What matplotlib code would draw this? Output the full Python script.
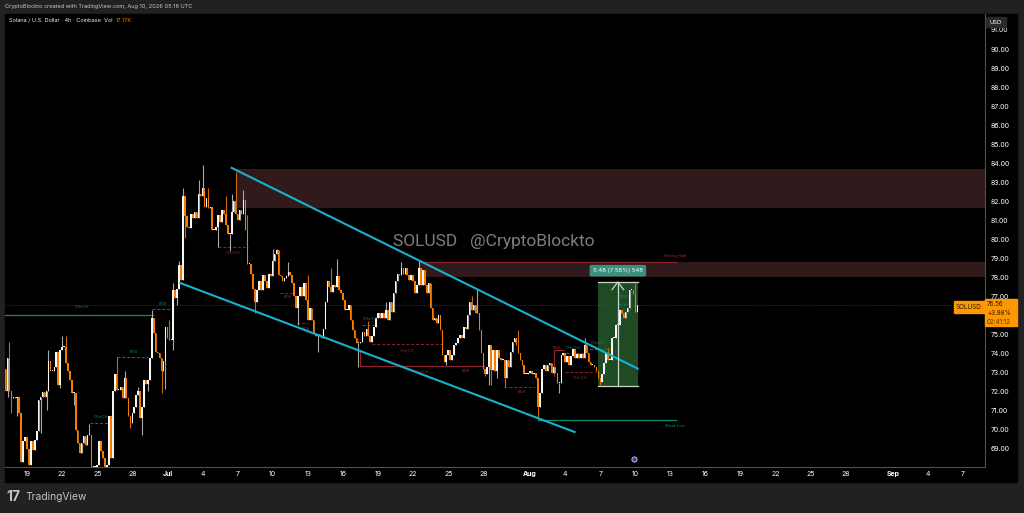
import matplotlib
matplotlib.use('Agg')
import matplotlib.pyplot as plt
from matplotlib.patches import Rectangle
import pandas as pd

plt.rcParams['font.family'] = ['Inter', 'DejaVu Sans']

# 4h closes, one per candle
closes = [
    73.2, 72.0, 73.75, 72.0, 71.65, 71.7, 71.65, 71.7, 70.85, 68.3,
    69.4, 69.6, 69.0, 68.15, 69.4, 68.9, 69.45, 69.9, 71.55, 71.7,
    71.95, 71.7, 72.0, 73.6, 73.1, 73.1, 73.3, 74.1, 72.35, 74.2,
    74.35, 74.35, 73.5, 73.05, 72.6, 71.9, 71.9, 70.0, 69.3, 68.75,
    69.3, 69.65, 69.2, 69.7, 69.7, 68.05, 68.05, 68.05, 68.15, 69.4,
    68.85, 68.5, 68.05, 68.15, 70.7, 68.5, 72.0, 72.9, 72.1, 72.1,
    72.25, 71.65, 72.7, 71.65, 70.7, 70.35, 70.85, 71.2, 71.8, 72.0,
    70.6, 71.2, 72.6, 72.4, 72.6, 73.75, 75.85, 75.05, 74.1, 74.0,
    73.75, 73.05, 73.6, 75.4, 74.8, 74.7, 74.7, 77.35, 76.9, 77.4,
    78.65, 77.85, 82.3, 81.2, 80.65, 80.6, 81.35, 81.1, 81.45, 81.1,
    82.4, 82.3, 82.7, 81.7, 82.15, 81.65, 81.7, 80.5, 80.5, 80.65,
    81.3, 80.9, 81.55, 81.35, 80.75, 80.3, 80.3, 81.45, 82.0, 81.35,
    81.0, 81.55, 81.35, 82.05, 80.5, 78.7, 78.7, 78.2, 77.4, 76.7,
    77.35, 77.8, 77.35, 78.1, 77.8, 77.45, 78.2, 78.05, 78.85, 79.2,
    79.45, 78.1, 78.05, 77.8, 77.95, 78.05, 78.3, 78.1, 77.7, 77.0,
    76.4, 77.0, 77.5, 77.0, 77.7, 76.8, 75.75, 76.4, 75.75, 75.05,
    74.9, 75.0, 74.9, 74.8, 75.3, 76.7, 77.8, 77.5, 77.25, 77.6,
    77.5, 78.05, 77.35, 77.15, 76.8, 76.3, 76.3, 76.55, 75.75, 75.25,
    74.8, 74.55, 74.55, 74.6, 75.15, 74.9, 75.3, 74.9, 74.6, 74.9,
    75.4, 75.85, 76.1, 75.85, 76.1, 75.85, 76.3, 75.75, 76.7, 76.2,
    77.15, 77.8, 78.2, 78.1, 78.5, 78.2, 78.5, 78.1, 77.85, 78.1,
    77.8, 77.15, 77.6, 78.5, 77.6, 78.4, 77.6, 77.15, 77.7, 76.4,
    75.75, 75.85, 75.6, 76.0, 75.25, 73.9, 73.55, 73.9, 74.2, 73.65,
    73.9, 74.45, 74.55, 74.8, 74.95, 74.8, 75.4, 75.3, 76.0, 76.7,
    76.3, 76.55, 76.1, 76.1, 75.25, 74.0, 73.2, 72.9, 73.3, 74.45,
    73.15, 74.2, 73.05, 74.2, 73.75, 73.65, 73.65, 72.7, 73.65, 73.3,
    74.1, 74.6, 74.8, 74.45, 74.0, 73.65, 73.4, 72.9, 72.9, 72.95,
    73.05, 72.9, 72.95, 72.7, 71.2, 71.9, 73.2, 73.4, 73.05, 73.4,
    73.5, 72.95, 73.3, 72.95, 72.45, 72.45, 73.9, 74.0, 73.55, 73.85,
    73.4, 73.85, 74.25, 73.75, 73.95, 73.75, 73.95, 73.75, 74.45, 74.0,
    73.55, 73.4, 73.4, 73.3, 73.05, 72.7, 72.5, 72.9, 73.5, 74.0,
    73.65, 73.65, 74.8, 74.8, 75.5, 75.5, 76.3, 76.1, 75.85, 76.2,
    76.4, 77.35, 77.35, 77.1, 76.2, 76.56,
]

# wicks that stand clear of the bodies
high_idx = [3, 23, 30, 32, 44, 58, 62, 69, 76, 85, 87, 90, 92, 100, 102, 105, 114, 117, 119, 123,
            125, 138, 140, 146, 156, 168, 171, 187, 196, 204, 213, 240, 243, 264, 298, 310, 324]
high_val = [74.6, 74.2, 74.9, 74.9, 70.3, 73.8, 73.05, 72.25, 76.3, 75.75, 77.7, 78.85, 82.7, 83.1, 83.9, 82.7, 82.25, 82.4, 83.55, 82.6,
            81.3, 79.5, 79.5, 78.8, 78.1, 78.5, 78.95, 75.7, 76.7, 78.8, 78.9, 77.0, 77.35, 75.25, 74.8, 74.3, 77.7]
low_idx = [2, 4, 7, 19, 22, 29, 36, 65, 71, 74, 81, 83, 87, 89, 93, 110, 116, 129, 151, 161,
           182, 227, 247, 249, 253, 250, 257, 274, 285, 306]
low_val = [71.7, 70.85, 70.7, 69.8, 71.0, 72.2, 71.3, 70.1, 69.7, 72.05, 71.9, 72.15, 74.2, 76.55, 80.05, 79.6, 79.4, 76.1, 75.5, 74.05,
           73.3, 73.4, 72.8, 72.35, 72.7, 72.35, 72.25, 70.6, 71.9, 72.35]

# 76.00 sits behind the last price tag on the axis
price_ticks = [p for p in range(69, 92) if p != 76]
date_ticks = ['06-19', '06-22', '06-25', '06-28', '07-01', '07-04', '07-07', '07-10', '07-13', '07-16', '07-19', '07-22', '07-25', '07-28',
              '08-01', '08-04', '08-07', '08-10', '08-13', '08-16', '08-19', '08-22', '08-25', '08-28', '09-01', '09-04', '09-07']
date_labels = ['19', '22', '25', '28', 'Jul', '4', '7', '10', '13', '16', '19', '22', '25', '28',
               'Aug', '4', '7', '10', '13', '16', '19', '22', '25', '28', 'Sep', '4', '7']

# drawings, x in days from Jun 19
channel_upper = ([17.5, 52.2], [83.75, 73.2])
channel_lower = ([13.1, 46.8], [77.7, 69.87])
zones = [(17.9, 81.65, 83.7), (33.6, 78.0, 78.8)]
solid_lines = [(-2, 10.8, 76.02, '#108a76'), (33.6, 55.5, 78.8, '#8c2430'), (43.7, 55.5, 70.5, '#108a76'), (28.5, 39.1, 73.34, '#8c2430')]
green_dashes = [(10.7, 12.4, 76.34), (7.7, 10.3, 73.8), (5.4, 7.1, 70.35), (28.6, 29.9, 75.5), (46.1, 47.5, 74.0), (47.7, 50.0, 74.25), (50.5, 51.4, 76.6)]
red_dashes = [(16.3, 18.9, 79.6), (21.6, 22.7, 77.2), (23.1, 24.0, 75.6), (29.5, 35.5, 74.5), (40.8, 43.4, 72.24), (46.0, 48.6, 73.0), (39.1, 39.1, 73.4)]
labels_green = [('CHoCH', 4.7, 76.45), ('BOS', 11.6, 76.6), ('BOS', 9.1, 74.1), ('CHoCH', 6.3, 70.65), ('CHoCH', 29.3, 75.8), ('CHoCH', 46.7, 74.3), ('CHoCH', 48.8, 74.55), ('BOS', 51.0, 76.95), ('Weak Low', 55.4, 70.2)]
labels_red = [('CHoCH', 17.6, 79.3), ('BOS', 22.3, 76.95), ('BOS', 23.8, 75.3), ('CHoCH', 32.5, 74.15), ('CHoCH', 33.8, 73.0), ('BOS', 37.5, 73.1), ('BOS', 42.3, 71.95), ('EQH', 45.3, 74.3), ('CHoCH', 47.3, 72.7), ('Strong High', 55.4, 79.1)]
measure_box = (48.8, 52.2, 72.3, 77.75)

dates = pd.date_range('2026-06-17 00:00', periods=len(closes), freq='4h')
ref = pd.Timestamp('2026-06-19')
x = [(d - ref) / pd.Timedelta(days=1) for d in dates]
opens = [closes[0] + 0.3] + closes[:-1]

W, H = 1024, 513
fig = plt.figure(figsize=(W / 100, H / 100), dpi=100, facecolor='#212121')
fig.add_artist(Rectangle((5 / W, 1 - 482 / H), 1012 / W, 468 / H, transform=fig.transFigure, color='black', zorder=0))

ax = fig.add_axes([5 / W, 1 - 467 / H, 980 / W, 453 / H], facecolor='black', zorder=1)
ax.set_xlim((5 - 27) / 11.7, (985 - 27) / 11.7)
ax.set_ylim(68.03, 91.84)

for x0, y0, y1 in zones:
    ax.add_patch(Rectangle((x0, y0), 90, y1 - y0, color='#301a1c', lw=0, zorder=1))
b0, b1, b2, b3 = measure_box
ax.add_patch(Rectangle((b0, b2), b1 - b0, b3 - b2, color='#1e4a24', lw=0, zorder=1))

ax.axhline(closes[-1], color='#555555', lw=0.5, ls=(0, (1, 2)), zorder=1)

for x0, x1, y, c in solid_lines:
    ax.plot([x0, x1], [y, y], color=c, lw=0.9, zorder=2)
ax.plot([28.5, 28.5], [73.34, 74.2], color='#8c2430', lw=0.8, zorder=2)
ax.plot([45.0, 45.9], [74.2, 74.2], color='#8c2430', lw=0.8, zorder=2)
ax.plot([45.0, 45.0], [72.8, 74.2], color='#8c2430', lw=0.8, zorder=2)
for x0, x1, y in green_dashes:
    ax.plot([x0, x1], [y, y], color='#0e7a68', lw=0.7, ls=(0, (3, 2)), zorder=2)
for x0, x1, y in red_dashes:
    ax.plot([x0, x1], [y, y], color='#8c2430', lw=0.7, ls=(0, (3, 2)), zorder=2)
for s, tx, ty in labels_green:
    ax.text(tx, ty, s, color='#0e8a74', fontsize=2.9, ha='center', va='center', zorder=4)
for s, tx, ty in labels_red:
    ax.text(tx, ty, s, color='#a32c38', fontsize=2.9, ha='center', va='center', zorder=4)

# candles
highs = {i: v for i, v in zip(high_idx, high_val)}
lows = {i: v for i, v in zip(low_idx, low_val)}
for i, (xi, o, c) in enumerate(zip(x, opens, closes)):
    up = c >= o
    col = '#f7f7f7' if up else '#f57c00'
    wick = '#a8a8a8' if up else '#c86c08'
    hi = max(o, c, highs.get(i, max(o, c)))
    lo = min(o, c, lows.get(i, min(o, c)))
    ax.plot([xi, xi], [lo, hi], color=wick, lw=0.8, zorder=3, solid_capstyle='butt')
    ax.bar(xi, max(abs(c - o), 0.05), bottom=min(o, c), width=0.135, color=col, lw=0, zorder=3)

# trend channel
ax.plot(channel_upper[0], channel_upper[1], color='#17b3cc', lw=1.5, zorder=5)
ax.plot(channel_lower[0], channel_lower[1], color='#17b3cc', lw=1.5, zorder=5)

# measure tool
mid = (b0 + b1) / 2
ax.plot([b0, b1], [b2, b2], color='#c9d6c9', lw=0.9, zorder=6)
ax.plot([b0, b1], [b3, b3], color='#c9d6c9', lw=0.9, zorder=6)
ax.plot([mid, mid], [b2, b3], color='#c9d6c9', lw=0.9, zorder=6)
ax.plot([mid - 0.5, mid, mid + 0.5], [b3 - 0.4, b3, b3 - 0.4], color='#c9d6c9', lw=0.9, zorder=6)
ax.text(mid, 78.35, '5.48 (7.58%) 548', color='white', fontsize=4.3, ha='center', va='center', zorder=7,
        bbox=dict(boxstyle='round,pad=0.55,rounding_size=0.3', fc='#3a8f7f', ec='none'))

# earnings style marker under the last candles
ax.scatter([51.9], [68.45], s=14, color='#5b2a9c', edgecolor='#d8cdf0', lw=0.6, zorder=6)

ax.text(0.396, 0.497, 'SOLUSD   @CryptoBlockto', transform=ax.transAxes, color='#7d7d7d', fontsize=12.5,
        ha='left', va='center', zorder=2, family=['Roboto', 'DejaVu Sans'])

# axes
for name in ['top', 'left']:
    ax.spines[name].set_visible(False)
for name in ['right', 'bottom']:
    ax.spines[name].set_color('#7a4a00')
    ax.spines[name].set_linewidth(0.8)
ax.yaxis.tick_right()
ax.set_yticks(price_ticks)
ax.set_yticklabels(['%.2f' % p for p in price_ticks])
ax.set_xticks([(pd.Timestamp('2026-' + d) - ref) / pd.Timedelta(days=1) for d in date_ticks])
ax.set_xticklabels(date_labels)
ax.tick_params(axis='y', length=0, labelsize=5, labelcolor='white', pad=4)
ax.tick_params(axis='x', length=0, labelsize=5, labelcolor='white', pad=3)
for lab in ax.get_xticklabels():
    if lab.get_text() in ('Jul', 'Aug', 'Sep'):
        lab.set_fontweight('bold')


def px_text(px, py, s, **kw):
    return fig.text(px / W, 1 - py / H, s, va='center', zorder=10, **kw)


# chrome
px_text(5, 7, 'CryptoBlockto created with TradingView.com, Aug 10, 2026 05:18 UTC', color='#c8c8c8', fontsize=4.05)
px_text(9, 20.5, 'Solana / U.S. Dollar · 4h · Coinbase  Vol', color='#e8e8e8', fontsize=4.05)
px_text(116, 20.5, '17.17K', color='#f57c00', fontsize=4.05)
px_text(25, 497, 'TradingView', color='#c4c4c4', fontsize=7.4)
px_text(6, 497, '17', color='#c4c4c4', fontsize=10, fontweight='bold')

fig.add_artist(Rectangle((986 / W, 1 - 27 / H), 20 / W, 10 / H, transform=fig.transFigure, color='#2a2a2a', zorder=9))
px_text(989, 22, 'USD', color='white', fontsize=4.2)

fig.add_artist(Rectangle((954 / W, 1 - 313 / H), 31 / W, 12 / H, transform=fig.transFigure, color='#ff9800', zorder=9))
fig.add_artist(Rectangle((985 / W, 1 - 326 / H), 32 / W, 27 / H, transform=fig.transFigure, color='#ff9800', zorder=9))
px_text(956, 307, 'SOLUSD', color='#2a1a00', fontsize=4.6)
px_text(987, 304.5, '76.56', color='#2a1a00', fontsize=4.5)
px_text(987, 313, '+3.98%', color='#2a1a00', fontsize=4.5)
px_text(987, 321.5, '02:41:12', color='#5a3a00', fontsize=4.5)

fig.savefig('out.png', dpi=100, facecolor=fig.get_facecolor())
